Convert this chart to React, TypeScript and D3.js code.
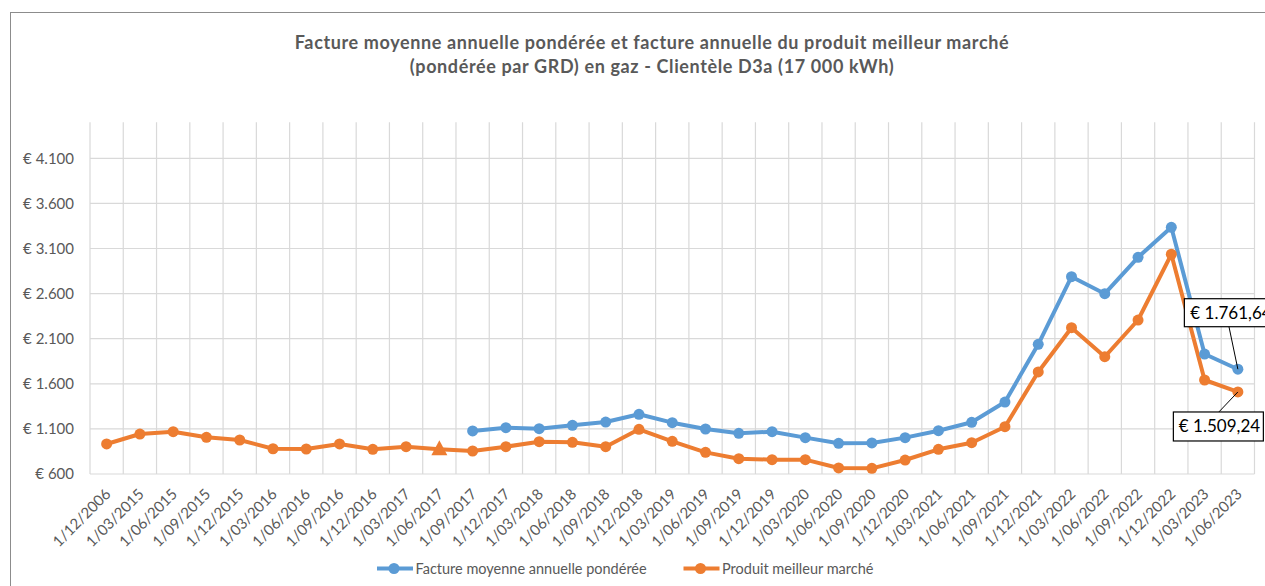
import React from "react";
import * as d3 from "d3";

const categories = [
  "1/12/2006",
  "1/03/2015", "1/06/2015", "1/09/2015", "1/12/2015",
  "1/03/2016", "1/06/2016", "1/09/2016", "1/12/2016",
  "1/03/2017", "1/06/2017", "1/09/2017", "1/12/2017",
  "1/03/2018", "1/06/2018", "1/09/2018", "1/12/2018",
  "1/03/2019", "1/06/2019", "1/09/2019", "1/12/2019",
  "1/03/2020", "1/06/2020", "1/09/2020", "1/12/2020",
  "1/03/2021", "1/06/2021", "1/09/2021", "1/12/2021",
  "1/03/2022", "1/06/2022", "1/09/2022", "1/12/2022",
  "1/03/2023", "1/06/2023"
];

// Facture moyenne annuelle pondérée (starts 1/09/2017)
const factureMoyenne = [
  null, null, null, null, null, null, null, null, null, null, null,
  1077, 1113, 1102, 1140, 1176, 1262, 1169, 1099, 1051, 1069, 1003, 940,
  944, 1003, 1080, 1173, 1398, 2038, 2787, 2599, 3002, 3335, 1930, 1761.64
];

// Produit meilleur marché
const produitMeilleur = [
  933, 1043, 1069, 1007, 977, 880, 877, 933, 874, 903, 875, 855, 903, 958,
  951, 903, 1095, 962, 840, 770, 759, 759, 667, 663, 755, 874, 947, 1124,
  1731, 2222, 1900, 2307, 3036, 1642, 1509.24
];

const triangleAt = "1/06/2017";
const yTicks = [600, 1100, 1600, 2100, 2600, 3100, 3600, 4100];
const seriesNames = ["Facture moyenne annuelle pondérée", "Produit meilleur marché"];
const titleLines = [
  "Facture moyenne annuelle pondérée et facture annuelle du produit meilleur marché",
  "(pondérée par GRD) en gaz - Clientèle D3a (17 000 kWh)"
];

const BLUE = "#5B9BD5";
const ORANGE = "#ED7D31";
const GREY = "#595959";
const FONT = "Lato, 'Open Sans', sans-serif";

const loc = d3.formatLocale({ decimal: ",", thousands: ".", grouping: [3], currency: ["€ ", ""] });
const fmtTick = (v: number) => "€ " + loc.format(",.0f")(v);
const fmtLabel = (v: number) => "€ " + loc.format(",.2f")(v);

export default function App() {
  const left = 90, right = 1254.5, top = 122.2, bottom = 474;

  const x = d3.scaleBand<string>().domain(categories).range([left, right]).padding(0);
  const y = d3.scaleLinear().domain([600, 4500]).range([bottom, top]);
  const cx = (c: string) => (x(c) as number) + x.bandwidth() / 2;

  const line = d3
    .line<number | null>()
    .defined(d => d != null)
    .x((_, i) => cx(categories[i]))
    .y(d => y(d as number));

  const last = categories.length - 1;
  const lastCat = categories[last];
  const blueLast = factureMoyenne[last] as number;
  const orangeLast = produitMeilleur[last];

  const triX = cx(triangleAt);
  const triY = y(produitMeilleur[categories.indexOf(triangleAt)]);

  return (
    <svg width={1265} height={586} style={{ position: "absolute", left: 0, top: 0 }} fontFamily={FONT}>
      <rect x={0} y={0} width={1265} height={586} fill="#fff" />
      <rect x={10.5} y={12.5} width={1400} height={700} fill="none" stroke="#8c8c8c" strokeWidth={1} />

      {/* title */}
      {titleLines.map((t, i) => (
        <text key={i} x={652} y={49 + i * 24} textAnchor="middle" fontSize={18} letterSpacing={0.62} fontWeight="bold" fill={GREY}>
          {t}
        </text>
      ))}

      {/* grid */}
      <g stroke="#d9d9d9" strokeWidth={1.2}>
        {yTicks.map(t => (
          <line key={t} x1={left} x2={right} y1={y(t)} y2={y(t)} />
        ))}
        {categories.map(c => (
          <line key={c} x1={x(c)} x2={x(c)} y1={top} y2={bottom} />
        ))}
        <line x1={right} x2={right} y1={top} y2={bottom} />
      </g>

      {/* y axis labels */}
      {yTicks.map(t => (
        <text key={t} x={74} y={y(t)} dy="0.35em" textAnchor="end" fontSize={15} fill={GREY}>
          {fmtTick(t)}
        </text>
      ))}

      {/* x axis labels */}
      {categories.map(c => (
        <text
          key={c}
          transform={`translate(${cx(c) + 5},${495}) rotate(-45)`}
          textAnchor="end"
          fontSize={15}
          fill={GREY}
        >
          {c}
        </text>
      ))}

      {/* series */}
      <path d={line(produitMeilleur) as string} fill="none" stroke={ORANGE} strokeWidth={4} strokeLinejoin="round" />
      <path d={line(factureMoyenne) as string} fill="none" stroke={BLUE} strokeWidth={4} strokeLinejoin="round" />

      {produitMeilleur.map((v, i) =>
        categories[i] === triangleAt ? null : (
          <circle key={i} cx={cx(categories[i])} cy={y(v)} r={5.5} fill={ORANGE} />
        )
      )}
      <path
        d={`M${triX},${triY - 9}L${triX + 8},${triY + 6}L${triX - 8},${triY + 6}Z`}
        fill={ORANGE}
      />
      {factureMoyenne.map((v, i) =>
        v == null ? null : <circle key={i} cx={cx(categories[i])} cy={y(v)} r={5.5} fill={BLUE} />
      )}

      {/* data labels */}
      <line x1={cx(lastCat) - 9} y1={y(blueLast) - 43} x2={cx(lastCat)} y2={y(blueLast)} stroke="#000" strokeWidth={1} />
      <rect x={cx(lastCat) - 53.5} y={y(blueLast) - 70.5} width={100} height={28} fill="#fff" stroke="#000" strokeWidth={1.2} />
      <text x={cx(lastCat) - 47.5} y={y(blueLast) - 56.5} dy="0.35em" fontSize={17} fill="#000">
        {fmtLabel(blueLast)}
      </text>

      <line x1={cx(lastCat) - 19} y1={y(orangeLast) + 20} x2={cx(lastCat)} y2={y(orangeLast)} stroke="#000" strokeWidth={1} />
      <rect x={cx(lastCat) - 64.5} y={y(orangeLast) + 20} width={90} height={29} fill="#fff" stroke="#000" strokeWidth={1.2} />
      <text x={cx(lastCat) - 59} y={y(orangeLast) + 34.5} dy="0.35em" fontSize={17} fill="#000">
        {fmtLabel(orangeLast)}
      </text>

      {/* legend */}
      {seriesNames.map((n, i) => {
        const lx = i === 0 ? 377 : 683.5;
        const col = i === 0 ? BLUE : ORANGE;
        return (
          <g key={n}>
            <line x1={lx} x2={lx + 36} y1={568.5} y2={568.5} stroke={col} strokeWidth={4} />
            <circle cx={lx + 17} cy={568.5} r={5.5} fill={col} />
            <text x={lx + 38.5} y={568.5} dy="0.35em" fontSize={14.5} fill={GREY}>
              {n}
            </text>
          </g>
        );
      })}
    </svg>
  );
}
